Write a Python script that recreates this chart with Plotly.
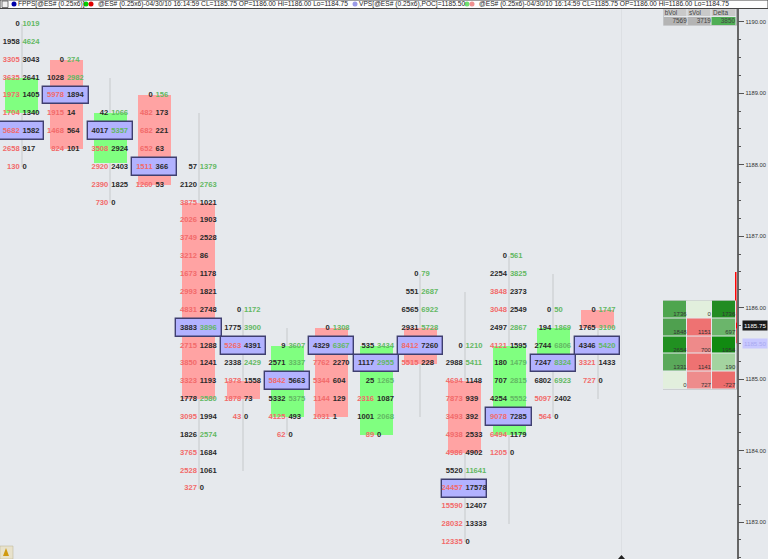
# ============================
# IMPORT LIBRARIES
# ============================
import plotly.graph_objects as go

# ============================
# FOOTPRINT DATA (one entry per bar)
# ============================
top_price = [1190.0, 1189.5, 1188.75, 1189.0, 1188.0, 1186.0, 1185.5, 1185.75, 1185.5, 1186.5, 1185.5, 1186.75, 1186.0, 1186.0]

bid_vol = [
    [0, 1958, 3305, 3635, 1973, 1704, 5682, 2658, 130],
    [0, 1028, 5978, 1915, 1468, 824],
    [42, 4017, 3508, 2920, 2390, 730],
    [0, 482, 682, 652, 1511, 1260],
    [57, 2120, 3875, 2026, 3749, 3212, 1673, 2993, 4831, 3883, 2715, 3850, 3323, 1778, 3095, 1826, 3765, 2528, 327],
    [0, 1775, 5263, 2338, 1978, 1878, 43],
    [9, 2571, 5842, 5332, 4125, 62],
    [0, 4329, 7762, 5344, 1144, 1031],
    [535, 1117, 25, 2316, 1001, 89],
    [0, 551, 6565, 2931, 8412, 5515],
    [0, 2988, 4694, 7873, 3493, 4938, 4986, 5520, 24457, 15590, 28032, 12335],
    [0, 2254, 3848, 3048, 2497, 4121, 180, 707, 4254, 9078, 6494, 1205],
    [0, 194, 2744, 7247, 6802, 5097, 564],
    [0, 1765, 4346, 3321, 727],
]

ask_vol = [
    [1019, 4624, 3043, 2641, 1405, 1340, 1582, 917, 0],
    [274, 2982, 1894, 14, 564, 101],
    [1066, 5357, 2924, 2403, 1825, 0],
    [156, 173, 221, 63, 366, 53],
    [1379, 2763, 1021, 1903, 2528, 86, 1178, 1821, 2748, 3896, 1288, 1241, 1193, 2580, 1994, 2574, 1684, 1061, 0],
    [1172, 3900, 4391, 2429, 1558, 73, 0],
    [3607, 3337, 5663, 5375, 493, 0],
    [1308, 6367, 2270, 604, 129, 1],
    [3434, 2955, 1265, 1087, 2068, 0],
    [79, 2687, 6922, 5728, 7260, 228],
    [1210, 5411, 1148, 939, 392, 2533, 4902, 11641, 17578, 12407, 13333, 0],
    [561, 3825, 2373, 2549, 2867, 1595, 1479, 2815, 5552, 7285, 1179, 0],
    [50, 1869, 6806, 8324, 6923, 2402, 0],
    [1747, 3100, 5420, 1433, 0],
]

poc_price = [1188.5, 1189.0, 1188.5, 1188.0, 1185.75, 1185.5, 1185.0, 1185.5, 1185.25, 1185.5, 1183.5, 1184.5, 1185.25, 1185.5]
open_px = [1188.75, 1189.5, 1188.05, 1189.0, 1187.5, 1185.0, 1184.5, 1185.75, 1184.25, 1185.75, 1185.0, 1184.25, 1185.25, 1186.0]
close_px = [1189.25, 1188.25, 1188.75, 1187.75, 1184.75, 1184.75, 1185.5, 1184.5, 1185.5, 1185.25, 1184.0, 1185.5, 1185.75, 1185.75]
high_px = [1190.0, 1189.5, 1189.25, 1189.0, 1188.75, 1186.0, 1185.75, 1185.75, 1185.5, 1186.5, 1186.25, 1186.75, 1186.5, 1186.0]
low_px = [1188.0, 1188.25, 1187.5, 1187.75, 1183.5, 1183.75, 1184.25, 1184.5, 1184.25, 1184.5, 1182.75, 1183.0, 1184.5, 1184.75]

# Side tables
table_head = ["bVol", "sVol", "Delta"]
table_totals = [7569, 3719, 3850]
table_totals_colors = ["#b4b4b4", "#b4b4b4", "#4fae55"]
ladder_values = [
    [1736, 0, 1736],
    [1848, 1151, 697],
    [2654, 700, 1954],
    [1331, 1141, 190],
    [0, 727, -727],
]
ladder_colors = [
    ["#4ea54e", "#e2efdd", "#228c22"],
    ["#4fa04f", "#ee7272", "#6bb56b"],
    ["#219021", "#ee8a8a", "#118a11"],
    ["#5aa95a", "#ee7272", "#a4d4a0"],
    ["#e2efdd", "#ee8c8c", "#ec6c6c"],
]

# Text of the status strip
strip_fpps = "FPPS[@ES# (0.25x6)]"
strip_bars = "@ES# (0.25x6)-04/30/10 16:14:59 CL=1185.75 OP=1186.00 Hi=1186.00 Lo=1184.75"
strip_vps = "VPS[@ES# (0.25x6),POC]=1185.50"

last_price = 1185.75
poc_last = 1185.50
range_high = 1186.5
range_low = 1185.5

BG = "#e6e9ed"
W, H = 768, 559
FONT = "Liberation Sans"


# helpers to go from screen pixels to paper fractions
def px(x):
    return x / W


def py(y):
    return 1 - y / H


# builds a stepped colorscale, each colour sits on its own index
def stepped_scale(colors):
    out = []
    for n, c in enumerate(colors):
        out.append([n / len(colors), c])
        out.append([(n + 1) / len(colors), c])
    return out


# ============================
# FOOTPRINT TRACES
# ============================
cols = list(range(len(top_price)))
fig = go.Figure()

# wicks
fig.add_trace(go.Bar(x=cols, base=low_px, y=[h - l for h, l in zip(high_px, low_px)],
                     width=0.028, marker=dict(color="#d6d9dc", line_width=0)))

# bodies
fig.add_trace(go.Bar(x=cols, base=[min(o, c) for o, c in zip(open_px, close_px)],
                     y=[abs(c - o) for o, c in zip(open_px, close_px)], width=0.745,
                     marker=dict(color=["#80ff80" if c > o else "#ffa3a3" for o, c in zip(open_px, close_px)],
                                 line_width=0)))

# POC boxes
fig.add_trace(go.Bar(x=cols, base=[p - 0.125 for p in poc_price], y=[0.25] * len(cols), width=1.02,
                     marker=dict(color="#b2b2ff", line=dict(color="#3f3f70", width=1.4))))

# volume numbers, a small gap either side of the bar centre
left_x, left_y, left_txt, left_col = [], [], [], []
right_x, right_y, right_txt, right_col = [], [], [], []
for i in cols:
    for j in range(len(bid_vol[i])):
        b = bid_vol[i][j]
        a = ask_vol[i][j]
        price = top_price[i] - 0.25 * j
        left_x.append(i - 0.045)
        left_y.append(price)
        left_txt.append(str(b))
        left_col.append("#f26a6a" if b > a else "#2a2a2a")
        right_x.append(i + 0.02)
        right_y.append(price)
        right_txt.append(str(a))
        right_col.append("#63b863" if a > b else "#2a2a2a")

fig.add_trace(go.Scatter(x=left_x, y=left_y, text=left_txt, mode="text", textposition="middle left",
                         textfont=dict(family=FONT, size=7.6, color=left_col, weight="bold")))
fig.add_trace(go.Scatter(x=right_x, y=right_y, text=right_txt, mode="text", textposition="middle right",
                         textfont=dict(family=FONT, size=7.6, color=right_col, weight="bold")))

# red range line on the price scale
fig.add_trace(go.Scatter(x=[16.13, 16.13], y=[range_low, range_high], yaxis="y2", mode="lines",
                         line=dict(color="#ff0000", width=2.5), cliponaxis=False))
fig.add_trace(go.Scatter(x=[16.13], y=[last_price], yaxis="y2", mode="markers", cliponaxis=False,
                         marker=dict(symbol="triangle-left", color="#ff0000", size=7)))

# ============================
# LADDER TABLE (right side)
# ============================
palette = sorted({c for row in ladder_colors for c in row})
ladder_z = [[palette.index(c) + 0.5 for c in row] for row in ladder_colors]
fig.add_trace(go.Heatmap(z=ladder_z, xaxis="x3", yaxis="y3", colorscale=stepped_scale(palette), zmin=0,
                         zmax=len(palette), showscale=False, xgap=1, ygap=1))
cell_x, cell_y, cell_txt = [], [], []
for r, row in enumerate(ladder_values):
    for c, v in enumerate(row):
        cell_x.append(c + 0.47)
        cell_y.append(r + 0.46)
        cell_txt.append(str(v))
fig.add_trace(go.Scatter(x=cell_x, y=cell_y, text=cell_txt, xaxis="x3", yaxis="y3", mode="text",
                         textposition="top left", cliponaxis=False,
                         textfont=dict(family=FONT, size=6, color="#333333")))

# ============================
# VOLUME TOTALS TABLE (top right)
# ============================
totals_palette = sorted(set(table_totals_colors + ["#c9c9c9"]))
totals_z = [[totals_palette.index("#c9c9c9") + 0.5] * 3, [totals_palette.index(c) + 0.5 for c in table_totals_colors]]
fig.add_trace(go.Heatmap(z=totals_z, xaxis="x4", yaxis="y4", colorscale=stepped_scale(totals_palette), zmin=0,
                         zmax=len(totals_palette), showscale=False, xgap=1, ygap=1))
fig.add_trace(go.Scatter(x=[-0.45, 0.55, 1.55], y=[0, 0, 0], text=table_head, xaxis="x4", yaxis="y4", mode="text",
                         textposition="middle right", textfont=dict(family=FONT, size=6.4, color="#444444")))
fig.add_trace(go.Scatter(x=[0.46, 1.46, 2.46], y=[1, 1, 1], text=[str(v) for v in table_totals], xaxis="x4", yaxis="y4",
                         mode="text", textposition="middle left", cliponaxis=False,
                         textfont=dict(family=FONT, size=6.4, color="#444444")))

# ============================
# STATUS STRIP + DECORATIONS
# ============================
shapes = [
    # strip
    dict(type="rect", xref="paper", yref="paper", x0=0, x1=1, y0=py(8.5), y1=1, fillcolor="#fdfdfd",
         line=dict(color="#444444", width=1)),
    dict(type="rect", xref="paper", yref="paper", x0=px(2), x1=px(8), y0=py(7.5), y1=py(1), fillcolor="#f0f0f0",
         line=dict(color="#555555", width=0.8)),
    # faint cursor line
    dict(type="line", xref="paper", yref="paper", x0=px(621.5), x1=px(621.5), y0=py(554), y1=py(9),
         line=dict(color="#dcdfe3", width=1)),
    # table backings
    dict(type="rect", xref="paper", yref="paper", x0=px(663), x1=px(736.5), y0=py(389.5), y1=py(300.5),
         fillcolor="#808080", line_width=0, layer="below"),
    dict(type="rect", xref="paper", yref="paper", x0=px(663.5), x1=px(736.5), y0=py(25.5), y1=py(9),
         fillcolor="#6e6e6e", line_width=0, layer="below"),
    # bell icon
    dict(type="rect", xref="paper", yref="paper", x0=0, x1=px(13), y0=0, y1=py(546), fillcolor="#e8e2cc",
         line=dict(color="#b8b090", width=0.5)),
    dict(type="path", xref="paper", yref="paper",
         path=f"M {px(3)} {py(556)} L {px(6)} {py(548)} L {px(9)} {py(556)} Z", fillcolor="#d09a10", line_width=0),
    # arrow at bottom
    dict(type="path", xref="paper", yref="paper",
         path=f"M {px(618)} {py(559)} L {px(621.5)} {py(555)} L {px(625)} {py(559)} Z", fillcolor="#222222", line_width=0),
]
for xc, colr in [(14, "#0000aa"), (86, "#00d000"), (91, "#e00000"), (355, "#9a9ae8"), (467, "#70e070"), (472, "#f09090")]:
    shapes.append(dict(type="circle", xref="paper", yref="paper", x0=px(xc - 2.5), x1=px(xc + 2.5),
                       y0=py(6.5), y1=py(1.5), fillcolor=colr, line_width=0))

strip_font = dict(family=FONT, size=6.65, color="#222222")
annotations = []
for xs, txt in [(17, strip_fpps), (97, strip_bars), (358, strip_vps), (478, strip_bars)]:
    annotations.append(dict(xref="paper", yref="paper", x=px(xs), y=py(4), text=txt, showarrow=False,
                            xanchor="left", yanchor="middle", font=strip_font, borderpad=0))
annotations.append(dict(xref="paper", yref="y2", x=px(742), y=last_price, text="1185.75", showarrow=False,
                        xanchor="left", yanchor="middle", bgcolor="#1a1a1a", borderpad=1,
                        font=dict(family=FONT, size=6.2, color="#ffffff")))
annotations.append(dict(xref="paper", yref="y2", x=px(742), y=poc_last, text="1185.50", showarrow=False,
                        xanchor="left", yanchor="middle", bgcolor="#c8c8ff", borderpad=1,
                        font=dict(family=FONT, size=6.2, color="#a8a8f0")))

# ============================
# LAYOUT
# ============================
fig.update_layout(
    width=W,
    height=H,
    margin=dict(l=0, r=0, t=0, b=0, autoexpand=False),
    paper_bgcolor=BG,
    plot_bgcolor=BG,
    barmode="overlay",
    bargap=0,
    showlegend=False,
    hovermode=False,
    shapes=shapes,
    annotations=annotations,
    xaxis=dict(domain=[0, px(736.5)], range=[-0.49, 16.135], visible=False, fixedrange=True),
    yaxis=dict(domain=[0, py(9)], range=[1182.515, 1190.21], visible=False, fixedrange=True),
    yaxis2=dict(domain=[0, py(9)], range=[1182.483, 1190.178], overlaying="y", anchor="x", side="right",
                showgrid=False, zeroline=False, showline=True, linecolor="#666666", linewidth=1.5,
                dtick=1, tickformat=".2f", ticks="outside", ticklen=6, tickcolor="#555555", tickwidth=1,
                tickfont=dict(family=FONT, size=5.8, color="#333333"),
                minor=dict(dtick=0.25, ticks="outside", ticklen=2.5, tickcolor="#555555", tickwidth=1, showgrid=False)),
    xaxis3=dict(domain=[px(663), px(736)], range=[-0.5, 2.5], anchor="y3", visible=False, fixedrange=True),
    yaxis3=dict(domain=[py(389.5), py(300.5)], range=[4.5, -0.5], anchor="x3", visible=False, fixedrange=True),
    xaxis4=dict(domain=[px(663.5), px(736)], range=[-0.5, 2.5], anchor="y4", visible=False, fixedrange=True),
    yaxis4=dict(domain=[py(25.5), py(9)], range=[1.5, -0.5], anchor="x4", visible=False, fixedrange=True),
)

fig.write_html("out.html", config={"displayModeBar": False},
               post_script="document.body.style.margin='0';document.body.style.overflow='hidden';")
